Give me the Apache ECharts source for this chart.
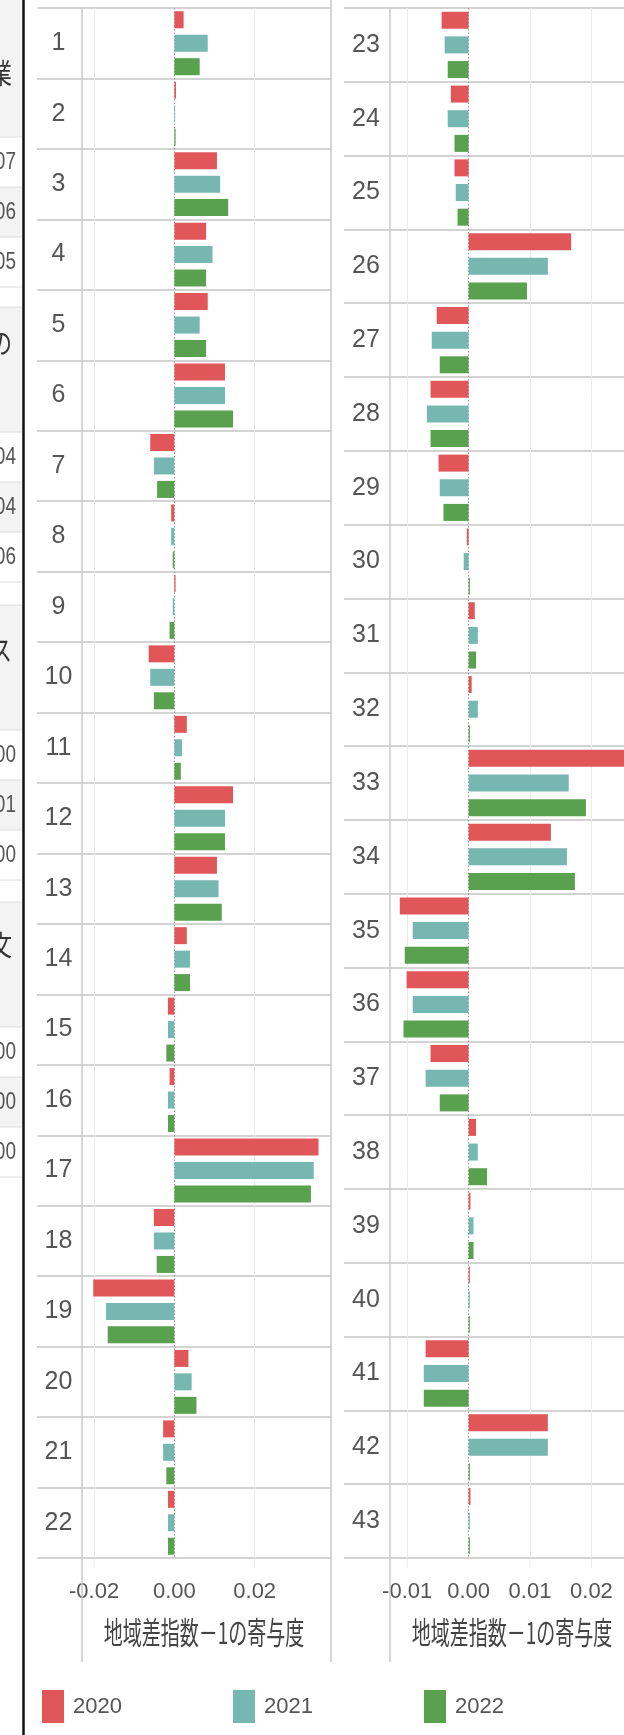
<!DOCTYPE html>
<html><head><meta charset="utf-8">
<script src="https://cdn.jsdelivr.net/npm/echarts@6/dist/echarts.min.js"></script>
<style>html,body{margin:0;padding:0;background:#fff}#c{width:624px;height:1735px}</style>
</head><body><div id="c"></div>
<script>
// ---------- data ----------
const categories = ['1','2','3','4','5','6','7','8','9','10','11','12','13','14','15','16','17','18','19','20','21','22',
  '23','24','25','26','27','28','29','30','31','32','33','34','35','36','37','38','39','40','41','42','43'];
const y2020 = [0.0023,0.0004,0.0106,0.0079,0.0083,0.0126,-0.0060,-0.0008,0.0003,-0.0064,0.0031,0.0146,0.0106,0.0031,-0.0016,-0.0012,0.0359,-0.0051,-0.0202,0.0035,-0.0028,-0.0016,
  -0.0044,-0.0029,-0.0023,0.0167,-0.0052,-0.0062,-0.0049,-0.0003,0.0010,0.0005,0.0270,0.0134,-0.0112,-0.0101,-0.0062,0.0012,0.0003,0.0002,-0.0070,0.0129,0.0003];
const y2021 = [0.0083,0.0002,0.0114,0.0095,0.0063,0.0126,-0.0051,-0.0008,-0.0004,-0.0060,0.0019,0.0126,0.0110,0.0039,-0.0016,-0.0016,0.0347,-0.0051,-0.0170,0.0043,-0.0028,-0.0016,
  -0.0039,-0.0034,-0.0021,0.0129,-0.0060,-0.0068,-0.0047,-0.0008,0.0015,0.0015,0.0163,0.0160,-0.0091,-0.0091,-0.0070,0.0015,0.0008,0.0002,-0.0073,0.0129,0.0002];
const y2022 = [0.0063,0.0003,0.0134,0.0079,0.0079,0.0146,-0.0043,-0.0004,-0.0012,-0.0051,0.0016,0.0126,0.0118,0.0039,-0.0020,-0.0016,0.0340,-0.0044,-0.0166,0.0055,-0.0020,-0.0016,
  -0.0034,-0.0023,-0.0018,0.0095,-0.0047,-0.0062,-0.0041,0.0002,0.0012,0.0002,0.0191,0.0173,-0.0104,-0.0106,-0.0047,0.0030,0.0008,0.0002,-0.0073,0.0002,0.0002];
const years = ['2020','2021','2022'];
const leftTicks = [-0.02, 0, 0.02];
const rightTicks = [-0.01, 0, 0.01, 0.02];
const axisTitle = '地域差指数－1の寄与度';
const tableHeaders = ['業','の','ス','文'];
const tableNumbers = [['07','06','05'],['04','04','06'],['00','01','00'],['00','00','00']];

// ---------- style ----------
const colors = ['#e15759','#76b7b2','#59a14f'];
const NUMF = '"Liberation Sans","Arial",sans-serif';
const JP = '"Noto Sans CJK JP",sans-serif';
const TXT = '#555';
const SEP = '#d3d3d3';

const values = [y2020, y2021, y2022];
const nLeft = 22;
const panels = [
  {cats: categories.slice(0, nLeft), slice: [0, nLeft], left: 82, width: 249, labLeft: 37, labW: 45, min: -0.023, max: 0.039, ticks: leftTicks, gap: '38%', shift: 16},
  {cats: categories.slice(nLeft), slice: [nLeft, categories.length], left: 390, width: 234, labLeft: 344, labW: 46, min: -0.0128, max: 0.0253, ticks: rightTicks, gap: '45%', shift: 6}
];
const TOP = 8, H = 1550;

const grid = [], xAxis = [], yAxis = [], series = [];
panels.forEach((p, i) => {
  grid.push({left: p.left, top: TOP, width: p.width, height: H});
  grid.push({left: p.labLeft, top: TOP, width: p.labW, height: H});
  const gi = i * 2;
  xAxis.push({
    type: 'value', gridIndex: gi, min: p.min, max: p.max,
    axisLine: {show: false}, axisTick: {show: false}, splitLine: {show: false},
    axisLabel: {
      customValues: p.ticks, margin: 23, fontSize: 22, fontFamily: NUMF, color: TXT,
      formatter: (v, idx) => idx === 0 ? '{s|' + v.toFixed(2) + '}' : (Math.abs(v) < 1e-12 ? 0 : v).toFixed(2),
      rich: {s: {padding: [0, 0, 0, p.shift], fontSize: 22, fontFamily: NUMF, color: TXT}}
    }
  });
  xAxis.push({type: 'value', gridIndex: gi + 1, min: 0, max: 1, show: false});
  yAxis.push({
    type: 'category', gridIndex: gi, data: p.cats, inverse: true,
    axisLine: {show: false}, axisTick: {show: false}, axisLabel: {show: false},
    splitLine: {show: true, lineStyle: {color: SEP, width: 2}}
  });
  yAxis.push({
    type: 'category', gridIndex: gi + 1, data: p.cats, inverse: true,
    axisLine: {show: false}, axisTick: {show: false},
    axisLabel: {inside: true, align: 'center', margin: p.labW / 2 - 1, fontSize: 25, fontFamily: NUMF, color: TXT},
    splitLine: {show: true, lineStyle: {color: SEP, width: 2}}
  });
  years.forEach((y, k) => {
    const s = {
      type: 'bar', name: y, xAxisIndex: gi, yAxisIndex: gi,
      data: values[k].slice(p.slice[0], p.slice[1]),
      barWidth: 17, barGap: p.gap,
      itemStyle: {color: colors[k]}
    };
    if (k === 0) {
      const ml = p.ticks.filter(t => t !== 0).map(t => ({xAxis: t, lineStyle: {color: '#ebebeb', width: 1, type: 'solid'}}));
      ml.push({xAxis: 0, lineStyle: {color: '#9a9a9a', width: 1, type: [1.5, 2]}});
      s.markLine = {silent: true, symbol: 'none', z: 1, label: {show: false}, animation: false, data: ml};
    }
    series.push(s);
  });
});

// ---------- decorations ----------
const graphic = [];
// cropped neighbouring table
const tableLayout = [{top: 0, split: 137, ty: 73}, {top: 307, split: 432, ty: 343}, {top: 605, split: 730, ty: 650}, {top: 902, split: 1027, ty: 945}];
tableLayout.forEach((g, gi) => {
  graphic.push({type: 'rect', shape: {x: 0, y: g.top, width: 22, height: g.split - g.top}, style: {fill: '#f3f3f3'}});
  graphic.push({type: 'rect', shape: {x: 0, y: g.split + 50, width: 22, height: 50}, style: {fill: '#f3f3f3'}});
  const ls = gi === 0 ? [g.split, g.split + 50, g.split + 100, g.split + 150] : [g.top, g.split, g.split + 50, g.split + 100, g.split + 150];
  ls.forEach(y => graphic.push({type: 'line', shape: {x1: 0, y1: y, x2: 22, y2: y}, style: {stroke: '#dcdcdc', lineWidth: 1}}));
  graphic.push({type: 'text', x: 12, y: g.ty, scaleY: 1.3, style: {text: tableHeaders[gi], fontSize: 22, fontFamily: JP, fill: '#333', align: 'right', verticalAlign: 'middle'}});
  tableNumbers[gi].forEach((t, r) => graphic.push({type: 'text', x: 16, y: g.split + 25 + 50 * r, scaleY: 1.3, style: {text: t, fontSize: 19, fontFamily: NUMF, fill: TXT, align: 'right', verticalAlign: 'middle'}}));
});
graphic.push({type: 'line', shape: {x1: 23.5, y1: 0, x2: 23.5, y2: 1735}, style: {stroke: '#111', lineWidth: 2.5}});
// pane borders
[[82, 8], [331, 0], [390, 8]].forEach(([x, y0]) => graphic.push({type: 'line', z: 10, shape: {x1: x, y1: y0, x2: x, y2: 1662}, style: {stroke: '#c8c8c8', lineWidth: 1.5}}));
// axis titles
[204, 512].forEach(cx => graphic.push({type: 'text', x: cx, y: 1632, scaleY: 1.6, z: 10,
  style: {text: axisTitle, fontSize: 19, fontFamily: JP, fill: '#444', align: 'center', verticalAlign: 'middle'}}));

const legendLefts = [42, 233, 424];
const legend = years.map((y, k) => ({
  data: [y], left: legendLefts[k], top: 1690, padding: 0, itemWidth: 22, itemHeight: 33, icon: 'rect',
  textStyle: {fontSize: 22, fontFamily: NUMF, color: TXT, padding: [0, 0, 0, 4]}
}));

const chart = echarts.init(document.getElementById('c'), null, {renderer: 'canvas'});
chart.setOption({
  animation: false, color: colors, grid, xAxis, yAxis, series, legend, graphic
});
// gridlines continue a little below the panes
const ext = [];
panels.forEach((p, i) => p.ticks.filter(t => t !== 0).forEach(t => {
  const x = chart.convertToPixel({xAxisIndex: i * 2}, t);
  ext.push({type: 'line', shape: {x1: x, y1: TOP + H, x2: x, y2: TOP + H + 10}, style: {stroke: '#ebebeb', lineWidth: 1}});
}));
chart.setOption({graphic: graphic.concat(ext)});
</script></body></html>
